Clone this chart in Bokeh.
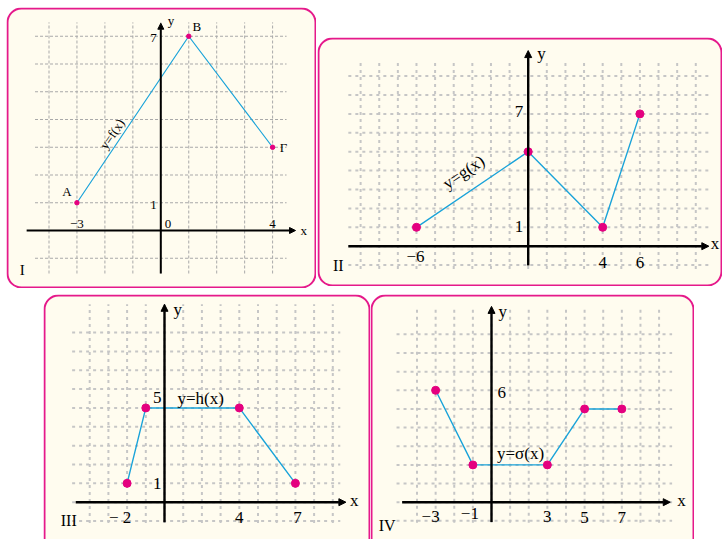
import numpy as np
from bokeh.plotting import figure
from bokeh.models import BoxAnnotation, Arrow, NormalHead, Spacer, Range1d
from bokeh.layouts import row, column
from bokeh.embed import file_html
from bokeh.resources import INLINE
from bokeh.core.properties import value

# ---------------- data ----------------
# Panel I : y = f(x)
f_x = [-3, 1, 4]
f_y = [1, 7, 3]
f_names = ["Α", "Β", "Γ"]
f_xticks = [-3, 4]
f_xtick_labels = ["−3", "4"]
f_yticks = [7, 1]
f_ytick_labels = ["7", "1"]

# Panel II : y = g(x)
g_x = [-6, 0, 4, 6]
g_y = [1, 5, 1, 7]
g_xticks = [-6, 4, 6]
g_xtick_labels = ["−6", "4", "6"]
g_yticks = [7, 1]
g_ytick_labels = ["7", "1"]

# Panel III : y = h(x)
h_x = [-2, -1, 4, 7]
h_y = [1, 5, 5, 1]
h_xticks = [-2, 4, 7]
h_xtick_labels = ["− 2", "4", "7"]
h_yticks = [5, 1]
h_ytick_labels = ["5", "1"]

# Panel IV : y = σ(x)
s_x = [-3, -1, 3, 5, 7]
s_y = [6, 2, 2, 5, 5]
s_xticks = [-3, -1, 3, 5, 7]
s_xtick_labels = ["−3", "−1", "3", "5", "7"]
s_yticks = [6]
s_ytick_labels = ["6"]

# ---------------- styles ----------------
FONT = value("Liberation Serif")
PINK = "#e4007f"
BLUE = "#1aa3d9"
CREAM = "#fffcef"
BORDER = "#e5198b"


def make_panel(L, T, W, H, ox, oy, sx, sy, cut_bottom=False):
    """L,T,W,H: figure box on page; ox,oy: page pixel of origin; sx,sy: px per unit."""
    x0, x1 = (L - ox) / sx, (L + W - ox) / sx
    y0, y1 = (oy - (T + H)) / sy, (oy - T) / sy
    p = figure(width=W, height=H, x_range=Range1d(x0, x1), y_range=Range1d(y0, y1),
               output_backend="svg", toolbar_location=None,
               x_axis_location=None, y_axis_location=None, min_border=0,
               outline_line_color=None, background_fill_color="white",
               border_fill_color="white")
    p.grid.visible = False
    dx, dy = 1.0 / sx, 1.0 / sy
    box = BoxAnnotation(left=x0 + 1 * dx, right=x1 - 1 * dx,
                        top=y1 - 1 * dy,
                        bottom=(y0 - 30 * dy) if cut_bottom else (y0 + 1 * dy),
                        fill_color=CREAM, fill_alpha=1.0,
                        line_color=BORDER, line_width=2, line_alpha=1.0,
                        border_radius=14, level="underlay")
    p.add_layout(box)
    return p


def grid(p, xs, ys, xspan, yspan, color, width, dash):
    p.segment(x0=xs, y0=[yspan[0]] * len(xs), x1=xs, y1=[yspan[1]] * len(xs),
              line_color=color, line_width=width, line_dash=dash)
    p.segment(x0=[xspan[0]] * len(ys), y0=ys, x1=[xspan[1]] * len(ys), y1=ys,
              line_color=color, line_width=width, line_dash=dash)


def axes(p, xext, yext, lw, head):
    for (xs, ys, xe, ye) in [(xext[0], 0, xext[1], 0), (0, yext[0], 0, yext[1])]:
        p.add_layout(Arrow(x_start=xs, y_start=ys, x_end=xe, y_end=ye,
                           line_color="black", line_width=lw,
                           end=NormalHead(size=head, fill_color="black",
                                          line_color="black", line_width=1)))


def txt(p, x, y, t, size, align="center", baseline="middle", xo=0, yo=0, angle=0.0):
    p.text(x=x, y=y, text=t, text_font=FONT, text_font_size=size,
           text_align=align, text_baseline=baseline, x_offset=xo, y_offset=yo,
           angle=angle, text_color="black")


# ---------------- Panel I ----------------
p1 = make_panel(6, 7, 310, 281, 160.3, 230.0, 27.95, 27.75)
grid(p1, list(np.arange(-4, 5)), list(np.arange(-1, 8)), (-4.5, 4.5), (-1.55, 7.5),
     "#a9a9a9", 1, "3 2")
axes(p1, (-4.8, 4.82), (-1.55, 7.47), 2, 6)
p1.line(f_x, f_y, line_color=BLUE, line_width=1.2)
p1.scatter(f_x, f_y, size=4.5, fill_color=PINK, line_color=PINK)
txt(p1, [0] * 2, f_yticks, f_ytick_labels, "13px", "right", "middle", -4, 2)
txt(p1, f_xticks, [0] * 2, f_xtick_labels, "13px", "center", "bottom", 0, -3)
txt(p1, [0], [0], ["0"], "13px", "left", "bottom", 4, -3)
txt(p1, [4.82], [0], ["x"], "13px", "left", "middle", 5, 0)
txt(p1, [0], [7.47], ["y"], "13px", "left", "middle", 7, -3)
txt(p1, f_x, f_y, f_names, "13px", "center", "middle", [-10, 8, 11], [-11, -10, 0])
txt(p1, [-1.74], [3.48], ["y=f(x)"], "13px", angle=np.deg2rad(56))
txt(p1, [-4.96], [-1.44], ["I"], "15px")

# ---------------- Panel II ----------------
p2 = make_panel(317, 37, 405, 249, 527.7, 245.7, 18.62, 18.9)
grid(p2, list(np.arange(-9, 10)), list(np.arange(-1, 10)), (-9.66, 9.7), (-1.2, 9.8),
     "#c6c6c6", 2, "3 4")
axes(p2, (-9.66, 9.7), (-1.02, 10.35), 2.4, 7)
p2.line(g_x, g_y, line_color=BLUE, line_width=1.4)
p2.scatter(g_x, g_y, size=8, fill_color=PINK, line_color=PINK)
txt(p2, [0] * 2, g_yticks, g_ytick_labels, "17px", "right", "middle", -5, [-2, -1])
txt(p2, g_xticks, [0] * 3, g_xtick_labels, "17px", "center", "middle", [-1, 0, 0], [10, 16, 16])
txt(p2, [9.7], [0], ["x"], "17px", "left", "middle", 2, -3)
txt(p2, [0], [10.35], ["y"], "17px", "left", "middle", 9, 3)
txt(p2, [-3.46], [3.92], ["y=g(x)"], "17px", angle=np.deg2rad(34))
txt(p2, [-10.2], [-1.02], ["II"], "16px")

# ---------------- Panel III ----------------
p3 = make_panel(43, 294, 327, 245, 164.0, 501.7, 18.7, 18.85, cut_bottom=True)
grid(p3, list(np.arange(-4, 10)), list(np.arange(-1, 10)), (-4.94, 9.4), (-1.1, 10.5),
     "#c6c6c6", 2, "3 4")
axes(p3, (-4.75, 9.7), (-1.06, 10.5), 2.4, 7)
p3.line(h_x, h_y, line_color=BLUE, line_width=1.4)
p3.scatter(h_x, h_y, size=8, fill_color=PINK, line_color=PINK)
txt(p3, [0] * 2, h_yticks, h_ytick_labels, "17px", "right", "middle", -3, [-10, 0])
txt(p3, h_xticks, [0] * 3, h_xtick_labels, "17px", "center", "middle", [-7, 0, 2], [15, 15, 15])
txt(p3, [9.7], [0], ["x"], "17px", "left", "middle", 4, -2)
txt(p3, [0], [10.5], ["y"], "17px", "left", "middle", 9, 5)
txt(p3, [1.93], [5.49], ["y=h(x)"], "17px")
txt(p3, [-5.12], [-0.97], ["III"], "16px")

# ---------------- Panel IV ----------------
p4 = make_panel(370, 294, 324, 245, 491.0, 501.7, 18.62, 18.65, cut_bottom=True)
grid(p4, list(np.arange(-4, 10)), list(np.arange(-1, 10)), (-5.1, 9.7), (-1.1, 10.5),
     "#c6c6c6", 2, "3 4")
axes(p4, (-4.8, 9.6), (-1.06, 10.5), 2.4, 7)
p4.line(s_x, s_y, line_color=BLUE, line_width=1.4)
p4.scatter(s_x, s_y, size=8, fill_color=PINK, line_color=PINK)
txt(p4, [0], s_yticks, s_ytick_labels, "17px", "left", "middle", 6, 2)
txt(p4, s_xticks, [0] * 5, s_xtick_labels, "17px", "center", "middle",
    [-5, -3, 0, 0, 0], [14, 11, 14, 15, 15])
txt(p4, [9.6], [0], ["x"], "17px", "left", "middle", 7, -2)
txt(p4, [0], [10.5], ["y"], "17px", "left", "middle", 7, 5)
txt(p4, [1.56], [2.63], ["y=σ(x)"], "17px")
txt(p4, [-5.6], [-1.25], ["IV"], "16px")

# ---------------- layout ----------------
top = row(Spacer(width=6, height=281), p1, Spacer(width=1, height=281),
          column(Spacer(width=405, height=30), p2))
bottom = row(Spacer(width=43, height=245), p3, p4)
layout = column(Spacer(width=10, height=7), top, Spacer(width=10, height=6), bottom)

open("out.html", "w").write(file_html(layout, INLINE))
